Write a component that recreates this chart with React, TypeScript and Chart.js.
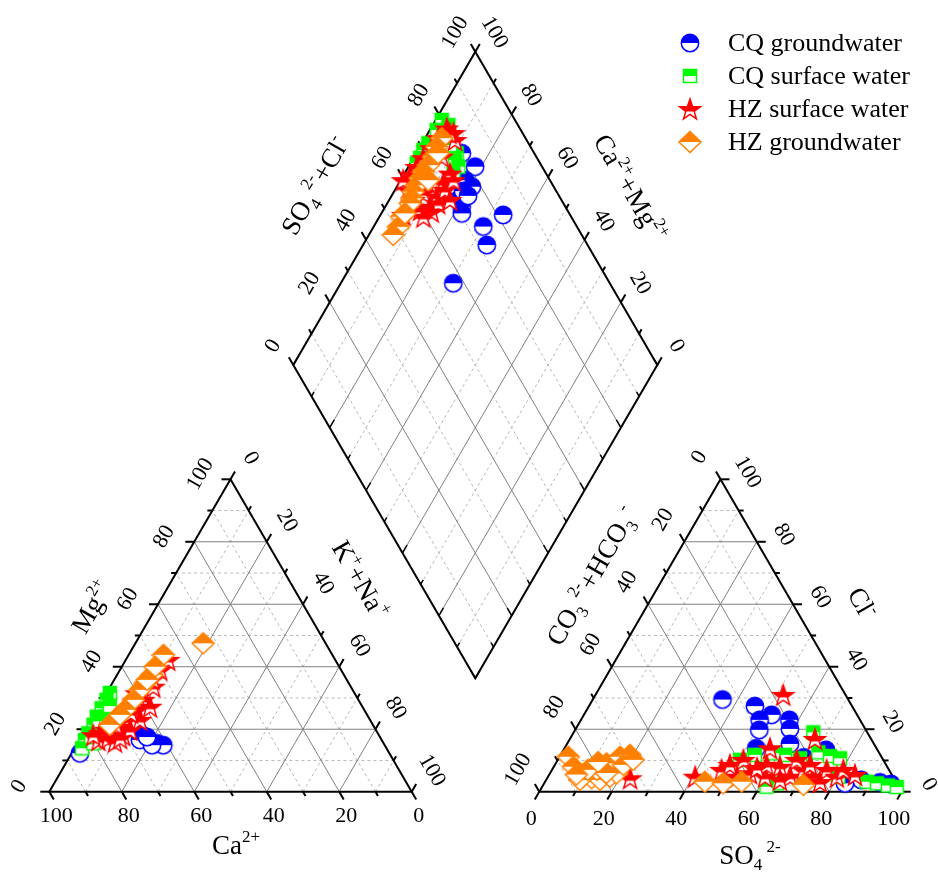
import React, { useEffect, useRef } from 'react';
import { Chart, registerables } from 'chart.js';

Chart.register(...registerables);

const W = 938;
const H = 873;

// ---- tick labels / names ----
const TICK_VALUES = [0, 20, 40, 60, 80, 100];
const SERIES_NAMES = ['CQ groundwater', 'CQ surface water', 'HZ surface water', 'HZ groundwater'];
const SERIES_COLORS = ['#0000ff', '#00ff00', '#ff0000', '#ff8000'];
const SERIES_MARKERS = ['circle', 'square', 'star', 'diamond'];

// ---- cation triangle data: [Mg2+ %, K+ + Na+ %] (Ca2+ = remainder) ----
const cqGwCation = [[18.2, 16.4], [16.6, 16.7], [15.5, 21.9], [14.9, 24.0], [14.9, 20.9], [12.3, 2.3], [17.5, 18.2]];
const cqSwCation = [[31.6, 0.9], [29.4, 1.1], [26.7, 1.1], [24.0, 1.1], [21.4, 1.5], [18.7, 1.4], [16.5, 1.6], [13.9, 2.1], [24.0, 3.4], [19.8, 3.6], [15.5, 4.4], [27.4, 3.0], [22.5, 2.4], [17.5, 2.8]];
const hzSwCation = [[42.2, 11.7], [39.0, 11.1], [33.6, 11.9], [29.4, 11.2], [26.2, 11.0], [22.9, 9.9], [20.8, 9.1], [19.8, 6.0], [18.7, 4.6], [16.5, 5.3], [17.1, 7.7], [16.0, 10.1], [18.1, 11.3], [19.8, 12.4], [23.0, 13.5], [27.2, 14.2], [31.5, 8.4], [17.1, 11.0], [18.1, 3.1], [25.2, 9.9], [36.0, 10.5], [21.5, 7.5]];
const hzGwCation = [[47.5, 18.7], [43.8, 9.6], [37.4, 9.6], [34.7, 9.1], [32.6, 8.7], [29.4, 8.5], [26.2, 7.8], [23.0, 6.6], [21.4, 6.0], [40.0, 9.2], [35.8, 9.1], [24.6, 7.2]];

// ---- anion triangle data: [Cl- %, SO4 2- %] (CO3+HCO3 = remainder) ----
const cqGwAnion = [[29.5, 35.8], [27.4, 45.8], [24.6, 51.8], [23.0, 49.3], [19.8, 50.8], [23.0, 57.5], [20.1, 59.1], [13.9, 52.9], [15.3, 61.5], [13.4, 72.4], [3.8, 86.9], [3.0, 92.5], [2.5, 95.8], [2.7, 83.0], [11.0, 67.5]];
const cqSwAnion = [[19.0, 66.1], [12.6, 70.7], [11.8, 61.9], [12.3, 58.4], [11.8, 53.6], [10.2, 50.3], [10.7, 66.6], [11.4, 74.5], [10.7, 77.6], [3.2, 88.7], [2.7, 91.8], [2.0, 95.2], [1.5, 97.9], [2.7, 64.2], [4.8, 80.1], [1.6, 61.9]];
const hzSwAnion = [[31.0, 51.8], [16.9, 67.6], [13.9, 56.7], [4.3, 22.9], [4.8, 40.6], [7.0, 46.8], [10.2, 51.2], [5.9, 55.2], [4.8, 59.9], [8.0, 62.4], [4.8, 66.8], [7.0, 69.4], [4.8, 73.2], [7.0, 75.8], [4.8, 79.7], [7.0, 80.4], [10.2, 65.9], [8.6, 58.4], [4.8, 52.1], [3.8, 64.5], [7.6, 56.3], [8.6, 48.3], [8.6, 70.4], [5.4, 84.4], [3.1, 75.9]];
const hzGwAnion = [[11.2, 2.4], [8.0, 5.4], [4.8, 9.7], [4.3, 12.3], [3.8, 14.9], [4.8, 17.1], [5.9, 18.4], [9.1, 14.0], [11.2, 16.7], [11.8, 19.1], [7.0, 12.4], [3.8, 9.3], [8.6, 18.9], [10.2, 20.8], [3.2, 44.1], [2.7, 49.4], [3.2, 54.2], [2.2, 71.8], [7.0, 9.9], [6.0, 15.5], [9.5, 11.5], [5.5, 7.5]];

// ---- diamond data: [K+ + Na+ %, SO4 2- + Cl- %] ----
const cqGwDiamond = [[12.5, 80.1], [18.3, 81.6], [17.7, 76.7], [20.6, 77.5], [19.0, 71.7], [21.0, 71.5], [22.1, 70.5], [33.7, 81.6], [30.1, 74.3], [34.0, 72.3], [30.9, 57.0], [18.9, 74.4], [21.0, 75.0]];
const cqSwDiamond = [[1.7, 79.9], [4.3, 80.9], [1.9, 76.9], [5.0, 78.4], [1.7, 72.5], [1.4, 70.0], [1.8, 67.9], [1.7, 66.1], [11.1, 78.7], [11.7, 77.1], [13.7, 77.0], [13.4, 74.6], [8.0, 78.2]];
const hzSwDiamond = [[4.4, 79.9], [7.0, 81.0], [3.6, 76.0], [3.4, 72.6], [2.7, 68.7], [2.3, 65.5], [1.8, 62.4], [0.7, 59.7], [3.7, 59.5], [8.3, 63.1], [12.5, 66.2], [12.2, 70.2], [12.5, 73.6], [13.7, 69.6], [12.3, 62.8], [10.1, 59.6], [14.0, 65.6], [16.7, 69.4], [6.6, 59.3], [7.4, 65.9], [14.5, 73.5], [7.5, 74.0], [8.5, 80.3], [5.9, 79.9], [13.6, 62.5], [12.1, 59.4], [6.3, 54.2]];
const hzGwDiamond = [[4.6, 77.0], [4.6, 74.2], [5.2, 71.7], [5.2, 69.0], [4.9, 66.6], [5.0, 64.6], [5.2, 62.6], [5.3, 60.6], [5.9, 59.1], [6.3, 57.9], [6.1, 53.4], [6.8, 50.9], [6.7, 48.2], [6.0, 73.6], [7.6, 66.6], [6.5, 54.9]];

const CATION = [cqGwCation, cqSwCation, hzSwCation, hzGwCation];
const ANION = [cqGwAnion, cqSwAnion, hzSwAnion, hzGwAnion];
const DIAMOND = [cqGwDiamond, cqSwDiamond, hzSwDiamond, hzGwDiamond];

// ---- layout (page coordinates) ----
type Pt = [number, number];
const CAT = { A: [49.3, 791.7] as Pt, B: [411.7, 791.7] as Pt, C: [230.5, 479.3] as Pt };
const AN = { A: [539.3, 791.7] as Pt, B: [901.7, 791.7] as Pt, C: [720.5, 479.3] as Pt };
const DIA = { L: [293.3, 365] as Pt, T: [475.3, 51.7] as Pt, R: [657.3, 365] as Pt, B: [475.3, 678.3] as Pt };

const FONT_FAMILY = '"Liberation Serif", "Times New Roman", serif';
const SIN60 = Math.sin(Math.PI / 3);

const lerp = (p: Pt, q: Pt, t: number): Pt => [p[0] + (q[0] - p[0]) * t, p[1] + (q[1] - p[1]) * t];

function cationXY(mg: number, na: number) {
  const w = CAT.B[0] - CAT.A[0];
  const h = CAT.A[1] - CAT.C[1];
  return { x: CAT.A[0] + w * (na + mg / 2) / 100, y: CAT.A[1] - h * mg / 100 };
}
function anionXY(cl: number, so4: number) {
  const w = AN.B[0] - AN.A[0];
  const h = AN.A[1] - AN.C[1];
  return { x: AN.A[0] + w * (so4 + cl / 2) / 100, y: AN.A[1] - h * cl / 100 };
}
function diamondXY(nak: number, so4cl: number) {
  const s = so4cl / 100, n = nak / 100;
  const hx = DIA.T[0] - DIA.L[0];
  const hy = DIA.L[1] - DIA.T[1];
  return { x: DIA.L[0] + hx * (s + n), y: DIA.L[1] - hy * (s - n) };
}

function makeMarker(kind: string, color: string): HTMLCanvasElement {
  const S = 30;
  const c = document.createElement('canvas');
  c.width = S; c.height = S;
  const g = c.getContext('2d')!;
  const m = S / 2;
  let split = m;
  const path = () => {
    g.beginPath();
    if (kind === 'circle') g.arc(m, m, 8.7, 0, Math.PI * 2);
    else if (kind === 'square') g.rect(m - 6.5, m - 6.5, 13, 13);
    else if (kind === 'diamond') {
      g.moveTo(m, m - 10.5); g.lineTo(m + 11, m); g.lineTo(m, m + 10.5); g.lineTo(m - 11, m); g.closePath();
    } else {
      for (let i = 0; i < 10; i++) {
        const a = -Math.PI / 2 + i * Math.PI / 5;
        const r = i % 2 === 0 ? 11 : 4.4;
        const x = m + r * Math.cos(a), y = m + 1 + r * Math.sin(a);
        if (i === 0) g.moveTo(x, y); else g.lineTo(x, y);
      }
      g.closePath();
    }
  };
  if (kind === 'star') split = m + 2.5;
  path(); g.fillStyle = '#ffffff'; g.fill();
  g.save(); g.beginPath(); g.rect(0, 0, S, split); g.clip();
  path(); g.fillStyle = color; g.fill(); g.restore();
  path(); g.strokeStyle = color; g.lineWidth = 1.5; g.lineJoin = 'miter'; g.stroke();
  return c;
}

type Run = [string, number];
function drawRich(ctx: CanvasRenderingContext2D, runs: Run[], cx: number, cy: number, rot: number, size: number) {
  ctx.save();
  ctx.translate(cx, cy);
  ctx.rotate(rot);
  ctx.fillStyle = '#000';
  ctx.textBaseline = 'alphabetic';
  ctx.textAlign = 'left';
  const big = `${size}px ${FONT_FAMILY}`;
  const small = `${Math.round(size * 0.62)}px ${FONT_FAMILY}`;
  const widths = runs.map(r => { ctx.font = r[1] === 0 ? big : small; return ctx.measureText(r[0]).width; });
  const total = widths.reduce((a, b) => a + b, 0);
  let x = -total / 2;
  const base = size * 0.32;
  runs.forEach((r, i) => {
    ctx.font = r[1] === 0 ? big : small;
    const y = base + (r[1] === 1 ? -size * 0.42 : r[1] === -1 ? size * 0.25 : 0);
    ctx.fillText(r[0], x, y);
    x += widths[i];
  });
  ctx.restore();
}

const TITLES: { runs: Run[]; x: number; y: number; rot: number }[] = [
  { runs: [['Ca', 0], ['2+', 1]], x: 236, y: 845, rot: 0 },
  { runs: [['Mg', 0], ['2+', 1]], x: 92, y: 607, rot: -Math.PI / 3 },
  { runs: [['K', 0], ['+', 1], ['+Na', 0], ['+', 1]], x: 360, y: 580, rot: Math.PI / 3 },
  { runs: [['SO', 0], ['4', -1], [' 2-', 1], ['+Cl', 0], ['-', 1]], x: 315, y: 186, rot: -Math.PI / 3 },
  { runs: [['Ca', 0], ['2+', 1], ['+Mg', 0], ['2+', 1]], x: 630, y: 188, rot: Math.PI / 3 },
  { runs: [['CO', 0], ['3', -1], [' 2-', 1], ['+HCO', 0], ['3', -1], [' -', 1]], x: 592, y: 576, rot: -Math.PI / 3 },
  { runs: [['Cl', 0], ['-', 1]], x: 862, y: 603, rot: Math.PI / 3 },
  { runs: [['SO', 0], ['4', -1], [' 2-', 1]], x: 750, y: 855, rot: 0 },
];

const LEGEND_X = 690;
const LEGEND_Y0 = 43;
const LEGEND_DY = 33;

export default function App() {
  const ref = useRef<HTMLCanvasElement | null>(null);

  useEffect(() => {
    document.body.style.margin = '0';
    const canvas = ref.current!;
    const markers = SERIES_NAMES.map((_, i) => makeMarker(SERIES_MARKERS[i], SERIES_COLORS[i]));

    const datasets: any[] = [];
    SERIES_NAMES.forEach((name, i) => {
      const order = 4 - i;
      const common = {
        label: name,
        pointStyle: markers[i],
        pointRadius: 10,
        pointHoverRadius: 10,
        showLine: false,
        order,
        clip: false,
        borderColor: SERIES_COLORS[i],
        backgroundColor: SERIES_COLORS[i],
      };
      datasets.push({ ...common, data: CATION[i].map(([mg, na]) => cationXY(mg, na)) });
      datasets.push({ ...common, data: ANION[i].map(([cl, so4]) => anionXY(cl, so4)) });
      datasets.push({ ...common, data: DIAMOND[i].map(([nak, s]) => diamondXY(nak, s)) });
    });

    const piperPlugin = {
      id: 'piperFrame',
      beforeDatasetsDraw(chart: any) {
        const ctx: CanvasRenderingContext2D = chart.ctx;
        const sx = chart.scales.x, sy = chart.scales.y;
        const P = (p: Pt): Pt => [sx.getPixelForValue(p[0]), sy.getPixelForValue(p[1])];
        const line = (p: Pt, q: Pt) => {
          const a = P(p), b = P(q);
          ctx.beginPath(); ctx.moveTo(a[0], a[1]); ctx.lineTo(b[0], b[1]); ctx.stroke();
        };
        ctx.save();
        ctx.fillStyle = '#ffffff';
        ctx.fillRect(0, 0, chart.width, chart.height);

        const gridStyle = (major: boolean) => {
          ctx.lineWidth = 1;
          if (major) { ctx.strokeStyle = '#808080'; ctx.setLineDash([]); }
          else { ctx.strokeStyle = '#b8b8b8'; ctx.setLineDash([3, 3]); }
        };
        [false, true].forEach(majorPass => {
          for (let k = 1; k <= 9; k++) {
            const major = k % 2 === 0;
            if (major !== majorPass) continue;
            const v = k / 10;
            gridStyle(major);
            [CAT, AN].forEach(t => {
              line(lerp(t.A, t.C, v), lerp(t.B, t.C, v));
              line(lerp(t.B, t.A, v), lerp(t.C, t.A, v));
              line(lerp(t.A, t.B, v), lerp(t.C, t.B, v));
            });
            line(lerp(DIA.L, DIA.T, v), lerp(DIA.B, DIA.R, v));
            line(lerp(DIA.L, DIA.B, v), lerp(DIA.T, DIA.R, v));
          }
        });
        ctx.setLineDash([]);

        ctx.strokeStyle = '#000';
        ctx.lineWidth = 2;
        ctx.lineJoin = 'miter';
        const poly = (pts: Pt[]) => {
          ctx.beginPath();
          pts.map(P).forEach((p, i) => (i === 0 ? ctx.moveTo(p[0], p[1]) : ctx.lineTo(p[0], p[1])));
          ctx.closePath(); ctx.stroke();
        };
        poly([CAT.A, CAT.B, CAT.C]);
        poly([AN.A, AN.B, AN.C]);
        poly([DIA.L, DIA.T, DIA.R, DIA.B]);

        const ticks = (a: Pt, b: Pt, dir: Pt) => {
          for (let k = 0; k <= 10; k++) {
            const p = lerp(a, b, k / 10);
            const len = k % 2 === 0 ? 9 : 5;
            line(p, [p[0] + dir[0] * len, p[1] + dir[1] * len]);
          }
        };
        ctx.lineWidth = 2;
        ticks(CAT.A, CAT.B, [0.5, SIN60]);
        ticks(CAT.A, CAT.C, [-1, 0]);
        ticks(CAT.C, CAT.B, [0.5, -SIN60]);
        ticks(AN.A, AN.B, [-0.5, SIN60]);
        ticks(AN.C, AN.A, [-0.5, -SIN60]);
        ticks(AN.B, AN.C, [1, 0]);
        ticks(DIA.L, DIA.T, [-0.5, -SIN60]);
        ticks(DIA.T, DIA.R, [0.5, -SIN60]);
        ctx.lineWidth = 1.5;
        ticks(DIA.L, DIA.B, [0.5, -SIN60]);
        ticks(DIA.B, DIA.R, [-0.5, -SIN60]);

        ctx.fillStyle = '#000';
        ctx.font = `22px ${FONT_FAMILY}`;
        ctx.textAlign = 'center';
        ctx.textBaseline = 'middle';
        const label = (text: string, p: Pt, off: Pt, rot: number) => {
          const q = P(p);
          ctx.save();
          ctx.translate(q[0] + off[0], q[1] + off[1]);
          ctx.rotate(rot);
          ctx.fillText(text, 0, 0);
          ctx.restore();
        };
        TICK_VALUES.forEach(v => {
          const t = v / 100;
          const s = String(v);
          label(s, lerp(CAT.A, CAT.B, 1 - t), [7, 25], 0);
          label(s, lerp(CAT.A, CAT.C, t), [-30, -5], -Math.PI / 3);
          label(s, lerp(CAT.C, CAT.B, t), [20, -21], Math.PI / 3);
          label(s, lerp(AN.A, AN.B, t), [-8, 28], 0);
          label(s, lerp(AN.C, AN.A, t), [-21, -22], -Math.PI / 3);
          label(s, lerp(AN.B, AN.C, t), [27, -7], Math.PI / 3);
          label(s, lerp(DIA.L, DIA.T, t), [-20, -19], -Math.PI / 3);
          label(s, lerp(DIA.R, DIA.T, t), [19, -19], Math.PI / 3);
        });

        TITLES.forEach(tt => {
          const q = P([tt.x, tt.y]);
          drawRich(ctx, tt.runs, q[0], q[1], tt.rot, 27);
        });
        ctx.restore();
      },
      afterDatasetsDraw(chart: any) {
        const ctx: CanvasRenderingContext2D = chart.ctx;
        ctx.save();
        ctx.font = `26px ${FONT_FAMILY}`;
        ctx.fillStyle = '#000';
        ctx.textAlign = 'left';
        ctx.textBaseline = 'middle';
        SERIES_NAMES.forEach((name, i) => {
          const y = LEGEND_Y0 + i * LEGEND_DY;
          const m = markers[i];
          ctx.drawImage(m, LEGEND_X - m.width / 2, y - m.height / 2);
          ctx.fillText(name, 728, y + 1);
        });
        ctx.restore();
      },
    };

    const chart = new Chart(canvas, {
      type: 'scatter',
      data: { datasets },
      options: {
        responsive: false,
        animation: false,
        devicePixelRatio: 1,
        events: [],
        layout: { padding: 0, autoPadding: false },
        scales: {
          x: { type: 'linear', min: 0, max: W, display: false },
          y: { type: 'linear', min: 0, max: H, reverse: true, display: false },
        },
        plugins: { legend: { display: false }, tooltip: { enabled: false } },
      },
      plugins: [piperPlugin],
    } as any);
    return () => chart.destroy();
  }, []);

  return (
    <div style={{ position: 'absolute', left: 0, top: 0, width: W, height: H, background: '#fff' }}>
      <canvas ref={ref} width={W} height={H} style={{ display: 'block', width: W, height: H }} />
    </div>
  );
}
